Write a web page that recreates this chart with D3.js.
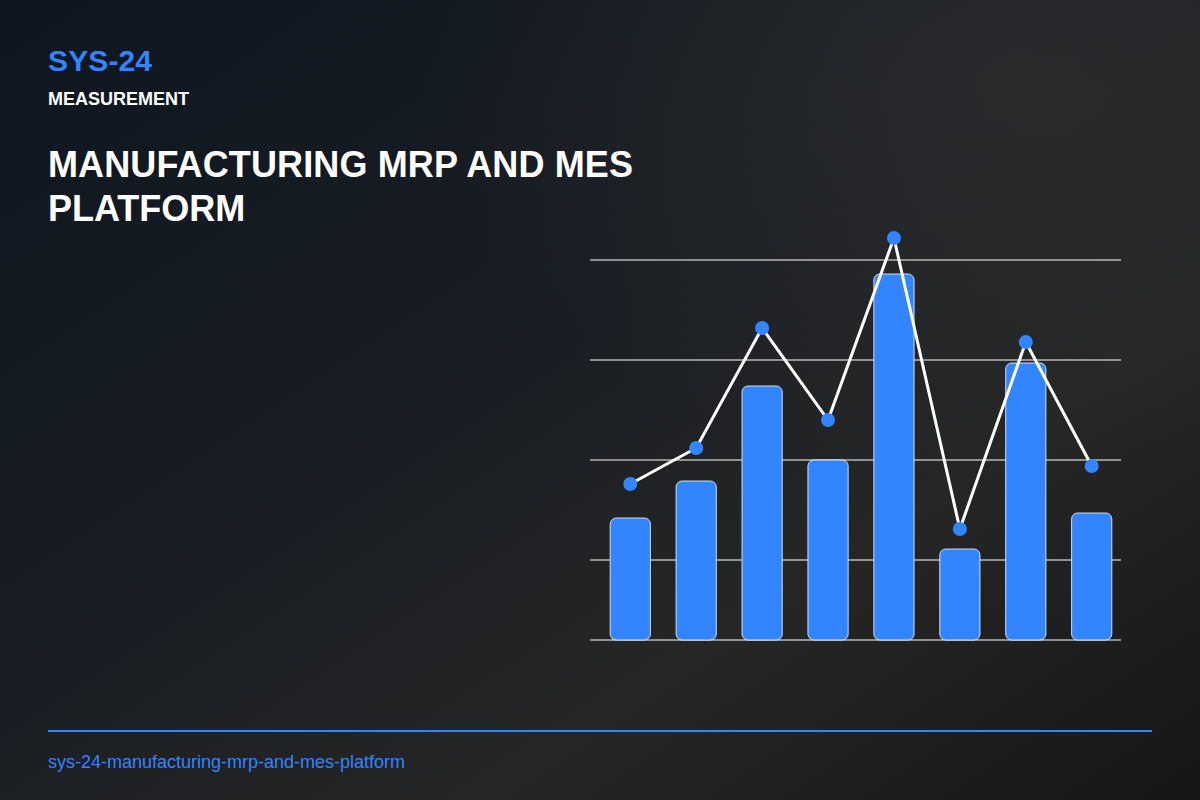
<!DOCTYPE html>
<html><head><meta charset="utf-8">
<script src="https://cdn.jsdelivr.net/npm/d3@7"></script>
<style>body{margin:0;background:#1a1a1a}svg{display:block}</style>
</head><body><svg id="c" width="1200" height="800"></svg>
<script>
const categories = ["P1","P2","P3","P4","P5","P6","P7","P8"];
const barValues = [30.5, 39.75, 63.5, 45, 91.5, 22.75, 69.25, 31.75];
const lineValues = [39, 48, 78, 55, 100.5, 27.75, 74.5, 43.5];
const gridValues = [20, 45, 70, 95];

const svg = d3.select("#c");
const defs = svg.append("defs");
const g1 = defs.append("linearGradient").attr("id","bg").attr("x1","0").attr("y1","0").attr("x2","1").attr("y2","1");
g1.append("stop").attr("offset","0").attr("stop-color","#0e1620");
g1.append("stop").attr("offset","0.45").attr("stop-color","#1a1e24");
g1.append("stop").attr("offset","0.7").attr("stop-color","#262626");
g1.append("stop").attr("offset","1").attr("stop-color","#161616");
svg.append("rect").attr("width",1200).attr("height",800).attr("fill","url(#bg)");
const rg = defs.append("radialGradient").attr("id","glow").attr("cx","0.85").attr("cy","0.1").attr("r","0.5");
rg.append("stop").attr("offset","0").attr("stop-color","#333").attr("stop-opacity",0.6);
rg.append("stop").attr("offset","1").attr("stop-color","#333").attr("stop-opacity",0);
svg.append("rect").attr("width",1200).attr("height",800).attr("fill","url(#glow)");

const font = "Liberation Sans, Arial, sans-serif";
svg.append("text").attr("x",48).attr("y",71).text("SYS-24").attr("fill","#3385ff").attr("font-family",font).attr("font-weight","bold").attr("font-size",30).attr("textLength",104);
svg.append("text").attr("x",48).attr("y",105).text("MEASUREMENT").attr("fill","#fff").attr("font-family",font).attr("font-weight","bold").attr("font-size",18).attr("textLength",141);
svg.append("text").attr("x",48).attr("y",177).text("MANUFACTURING MRP AND MES").attr("fill","#fff").attr("font-family",font).attr("font-weight","bold").attr("font-size",36).attr("textLength",585);
svg.append("text").attr("x",48).attr("y",221).text("PLATFORM").attr("fill","#fff").attr("font-family",font).attr("font-weight","bold").attr("font-size",36);

const x = d3.scaleBand().domain(categories).range([597,1125]).paddingInner(0.39).paddingOuter(0.2);
const y = d3.scaleLinear().domain([0,95]).range([640,260]);

svg.append("g").selectAll("line").data(gridValues).join("line")
  .attr("x1",590).attr("x2",1121).attr("y1",d=>y(d)).attr("y2",d=>y(d))
  .attr("stroke","#fff").attr("stroke-width",1);
svg.append("line").attr("x1",590).attr("x2",1121).attr("y1",y(0)).attr("y2",y(0)).attr("stroke","#fff");

svg.append("g").selectAll("rect").data(barValues).join("rect")
  .attr("x",(d,i)=>x(categories[i])).attr("width",x.bandwidth())
  .attr("y",d=>y(d)).attr("height",d=>y(0)-y(d))
  .attr("rx",6).attr("fill","#3385ff").attr("stroke","#fff").attr("stroke-width",0.8);

const cx = i => x(categories[i]) + x.bandwidth()/2;
svg.append("path").datum(lineValues)
  .attr("d", d3.line().x((d,i)=>cx(i)).y(d=>y(d)))
  .attr("fill","none").attr("stroke","#fff").attr("stroke-width",3);
svg.append("g").selectAll("circle").data(lineValues).join("circle")
  .attr("cx",(d,i)=>cx(i)).attr("cy",d=>y(d)).attr("r",7).attr("fill","#3385ff");

svg.append("line").attr("x1",48).attr("x2",1152).attr("y1",731).attr("y2",731).attr("stroke","#3385ff").attr("stroke-width",2);
svg.append("text").attr("x",48).attr("y",768).text("sys-24-manufacturing-mrp-and-mes-platform").attr("fill","#3385ff").attr("font-family",font).attr("font-size",18).attr("textLength",357);
</script></body></html>
